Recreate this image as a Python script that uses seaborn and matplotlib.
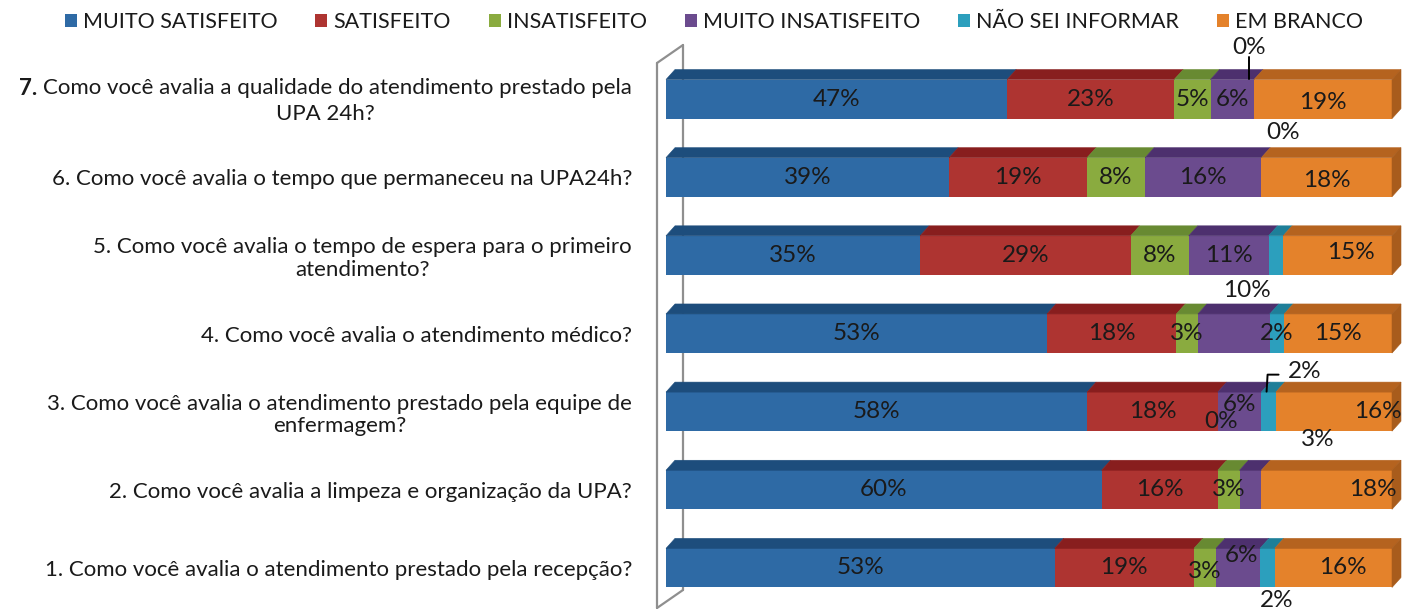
import numpy as np
import pandas as pd
import matplotlib
matplotlib.use("Agg")
import matplotlib.pyplot as plt
import seaborn as sns
from matplotlib.patches import Polygon, Patch
from matplotlib.lines import Line2D
from matplotlib.transforms import IdentityTransform, offset_copy

# ---------------- data ----------------
questions = [
    "7. Como você avalia a qualidade do atendimento prestado pela\nUPA 24h?",
    "6. Como você avalia o tempo que permaneceu na UPA24h?",
    "5. Como você avalia o tempo de espera para o primeiro\natendimento?",
    "4. Como você avalia o atendimento médico?",
    "3. Como você avalia o atendimento prestado pela equipe de\nenfermagem?",
    "2. Como você avalia a limpeza e organização da UPA?",
    "1. Como você avalia o atendimento prestado pela recepção?",
]
series = ["MUITO SATISFEITO", "SATISFEITO", "INSATISFEITO",
          "MUITO INSATISFEITO", "NÃO SEI INFORMAR", "EM BRANCO"]
muito_satisfeito   = [47, 39, 35, 53, 58, 60, 53]
satisfeito         = [23, 19, 29, 18, 18, 16, 19]
insatisfeito       = [5, 8, 8, 3, 0, 3, 3]
muito_insatisfeito = [6, 16, 11, 10, 6, 3, 6]
nao_sei_informar   = [0, 0, 2, 2, 2, 0, 2]
em_branco          = [19, 18, 15, 15, 16, 18, 16]

# ---------------- style ----------------
front_colors = ["#2E6AA5", "#AE3431", "#8AAB3F", "#6B4B8E", "#2C9FBD", "#E4822B"]
top_colors   = ["#1D4D7C", "#881E1E", "#688A32", "#4D306E", "#1E7F99", "#B5631F"]
side_color   = "#A85C1C"
text_color   = "#1a1a1a"

sns.set_theme(style="white")
plt.rcParams["font.family"] = ["Lato", "DejaVu Sans"]

FS_TICK = 16
FS_PCT = 17.5
FS_LEG = 15.5
LSP = 1.15
W, H = 1404, 609
fig = plt.figure(figsize=(W / 100, H / 100), dpi=100)
ax_left, ax_right = 666, 1392
ax_top, ax_bot = 60, 607
ax = fig.add_axes([ax_left / W, 1 - ax_bot / H, (ax_right - ax_left) / W, (ax_bot - ax_top) / H])

vals = np.array([muito_satisfeito, satisfeito, insatisfeito,
                 muito_insatisfeito, nao_sei_informar, em_branco], dtype=float).T
totals = vals.sum(axis=1)
frac = vals / totals[:, None] * 100
cum = frac.cumsum(axis=1)
lefts = cum - frac

bar_w = 0.5
for j in reversed(range(len(series))):
    df = pd.DataFrame({"pergunta": questions, "acumulado": cum[:, j]})
    sns.barplot(data=df, x="acumulado", y="pergunta", orient="h", color=front_colors[j],
                saturation=1, width=bar_w, errorbar=None, linewidth=0, ax=ax, zorder=2)

ax.set_xlim(0, 100)
ax.set_ylim(len(questions) - 0.5, -0.5)
ax.set_xlabel("")
ax.set_ylabel("")
ax.set_xticks([])
for s in ax.spines.values():
    s.set_visible(False)

PAD_PX = 34
label_right = ax_left - PAD_PX
# first label gets a bold number, so it is written by hand; the rest are tick labels
tick_texts = [""] + questions[1:]
ax.set_yticks(range(len(questions)))
ax.set_yticklabels(tick_texts)
ax.tick_params(axis="y", length=0, pad=PAD_PX * 72 / 100, labelsize=FS_TICK, labelcolor=text_color)
for t in ax.get_yticklabels():
    t.set_multialignment("center")
    t.set_linespacing(LSP)

fig.canvas.draw()
renderer = fig.canvas.get_renderer()
first_line, rest = questions[0].split("\n", 1)
num, body = first_line.split(" ", 1)
probe = fig.text(0, 0, body, fontsize=FS_TICK)
w_body = probe.get_window_extent(renderer).width
probe.set_text(num + " ")
probe.set_fontweight("bold")
w_num = probe.get_window_extent(renderer).width
probe.remove()
line_h = FS_TICK * 100 / 72 * LSP
w_line = w_body + w_num
ycen = ax.transData.transform((0, 0))[1]
y1 = ycen + line_h / 2
y2 = ycen - line_h / 2
fig.text((label_right - w_line) / W, y1 / H, num, fontsize=FS_TICK, fontweight="bold",
         color=text_color, ha="left", va="center_baseline")
fig.text(label_right / W, y1 / H, body, fontsize=FS_TICK,
         color=text_color, ha="right", va="center_baseline")
fig.text((label_right - w_line / 2) / W, y2 / H, rest, fontsize=FS_TICK,
         color=text_color, ha="center", va="center_baseline")

# ---------------- 3D faces ----------------
DX, DY = 9, 10
T = ax.transData
def d(x, y):
    return T.transform((x, y))

for i in range(len(questions)):
    for j in range(len(series)):
        if frac[i, j] <= 0:
            continue
        p0 = d(lefts[i, j], i - bar_w / 2)
        p1 = d(cum[i, j], i - bar_w / 2)
        poly = Polygon([p0, p1, p1 + [DX, DY], p0 + [DX, DY]], closed=True,
                       facecolor=top_colors[j], edgecolor=top_colors[j], lw=0.4,
                       transform=IdentityTransform(), clip_on=False, zorder=2.5)
        ax.add_patch(poly)
    pa = d(cum[i, -1], i - bar_w / 2)
    pb = d(cum[i, -1], i + bar_w / 2)
    side = Polygon([pa, pb, pb + [DX, DY], pa + [DX, DY]], closed=True,
                   facecolor=side_color, edgecolor=side_color, lw=0.4,
                   transform=IdentityTransform(), clip_on=False, zorder=2.5)
    ax.add_patch(side)

# wall (decoration)
axb = ax.get_position()
lx = axb.x0 * W
ytop = axb.y1 * H
ybot = axb.y0 * H
wall_col = "#8f8f8f"
front_x, back_x = lx - 9, lx + 17
wall = [
    ([front_x, front_x], [ytop - 3, ybot - 1]),
    ([front_x, back_x], [ytop - 3, ytop + 15]),
    ([back_x, back_x], [ytop + 15, ybot + 17]),
    ([front_x, back_x], [ybot - 1, ybot + 17]),
]
for xs, ys in wall:
    ax.add_line(Line2D(xs, ys, color=wall_col, lw=1.6, transform=IdentityTransform(),
                       clip_on=False, zorder=1))

# ---------------- labels ----------------
offsets = {
    (0, 4): (-5, -52), (1, 4): (22, -45),
    (3, 3): (13, -43),
    (4, 2): (3, 10), (4, 3): (0, -7), (4, 4): (36, -40), (4, 5): (44, 0),
    (5, 3): (67, -50), (5, 5): (46, 0),
    (6, 2): (0, 4), (6, 3): (4, -12), (6, 4): (9, 33), (6, 5): (10, 0),
    (2, 5): (13, -3), (0, 5): (0, 3), (1, 5): (0, 3),
}
hidden = {(2, 4), (5, 4)}
for i in range(len(questions)):
    for j in range(len(series)):
        if (i, j) in hidden:
            continue
        if vals[i, j] == 0 and (i, j) not in offsets:
            continue
        dx, dy = offsets.get((i, j), (0, 0))
        xc = lefts[i, j] + frac[i, j] / 2
        tr = offset_copy(ax.transData, fig=fig, x=dx, y=-dy, units="dots")
        ax.text(xc, i, f"{vals[i, j]:.0f}%", transform=tr, ha="center", va="center",
                fontsize=FS_PCT, color=text_color, zorder=5, clip_on=False)

def leader(i, j, pts):
    xc = lefts[i, j] + frac[i, j] / 2
    base = d(xc, i)
    xs = [base[0] + p[0] for p in pts]
    ys = [base[1] - p[1] for p in pts]
    ax.add_line(Line2D(xs, ys, color="black", lw=1.4, transform=IdentityTransform(),
                       clip_on=False, zorder=6))

leader(0, 4, [(-5, -42), (-5, -20)])
leader(4, 4, [(-2, -20), (-1, -37), (10, -37)])

# ---------------- legend ----------------
handles = [Patch(facecolor=c, edgecolor="none") for c in front_colors]
fig.legend(handles, series, loc="center", bbox_to_anchor=(714 / W, 1 - 22 / H), ncol=6,
           frameon=False, fontsize=FS_LEG, handlelength=0.55, handleheight=0.55,
           handletextpad=0.3, columnspacing=1.75, labelcolor=text_color)

fig.savefig("out.png", dpi=100)
